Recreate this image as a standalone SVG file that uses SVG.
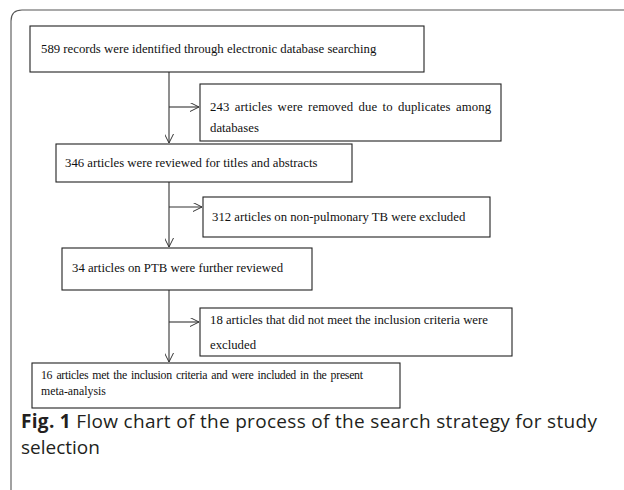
<svg xmlns="http://www.w3.org/2000/svg" width="624" height="490" viewBox="0 0 624 490">
<defs>
<style>
.box{fill:#fff;stroke:#222;stroke-width:1.1}
.t{font-family:"Liberation Serif","Times New Roman",serif;font-size:12.75px;fill:#111}
.s{font-size:11.8px}
.cap{font-family:"Open Sans","Noto Sans",sans-serif;font-size:19px;fill:#231f20}
.ln{stroke:#333;stroke-width:1.1;fill:none}
</style>
<marker id="ah" viewBox="0 0 10 10" refX="10" refY="5" markerWidth="10" markerHeight="9" markerUnits="userSpaceOnUse" orient="auto">
<path d="M0,0 L10,5 L0,10" fill="none" stroke="#333" stroke-width="1.1"/>
</marker>
</defs>
<rect width="624" height="490" fill="#fff"/>
<path d="M11,490 V21 Q11,10 22,10 H624" fill="none" stroke="#555" stroke-width="1.1"/>
<g id="connectors">
<path class="ln" d="M169,72 V143" marker-end="url(#ah)"/>
<path class="ln" d="M169,107 H199" marker-end="url(#ah)"/>
<path class="ln" d="M169,182 V247" marker-end="url(#ah)"/>
<path class="ln" d="M169,207 H202" marker-end="url(#ah)"/>
<path class="ln" d="M169,290 V362" marker-end="url(#ah)"/>
<path class="ln" d="M169,322 H199" marker-end="url(#ah)"/>
</g>
<g id="n1">
<rect class="box" x="30" y="26" width="394" height="46"/>
<text class="t" x="41" y="53">589 records were identified through electronic database searching</text>
</g>
<g id="n2">
<rect class="box" x="200" y="84" width="301" height="57"/>
<text class="t" x="210" y="111" word-spacing="2" textLength="281" lengthAdjust="spacing">243 articles were removed due to duplicates among</text>
<text class="t" x="210" y="132">databases</text>
</g>
<g id="n3">
<rect class="box" x="56" y="144" width="296" height="38"/>
<text class="t" x="65" y="167">346 articles were reviewed for titles and abstracts</text>
</g>
<g id="n4">
<rect class="box" x="203" y="197" width="287" height="40"/>
<text class="t" x="212" y="221">312 articles on non-pulmonary TB were excluded</text>
</g>
<g id="n5">
<rect class="box" x="62" y="248" width="250" height="42"/>
<text class="t" x="72" y="272">34 articles on PTB were further reviewed</text>
</g>
<g id="n6">
<rect class="box" x="200" y="308" width="312" height="48"/>
<text class="t" x="210" y="324">18 articles that did not meet the inclusion criteria were</text>
<text class="t" x="210" y="349">excluded</text>
</g>
<g id="n7">
<rect class="box" x="32" y="363" width="368" height="45"/>
<text class="t s" x="41" y="379" word-spacing="1.5" textLength="322" lengthAdjust="spacing">16 articles met the inclusion criteria and were included in the present</text>
<text class="t s" x="41" y="395">meta-analysis</text>
</g>
<g id="caption">
<text class="cap" x="21" y="428" textLength="576" lengthAdjust="spacing"><tspan font-weight="bold">Fig. 1</tspan>  Flow chart of the process of the search strategy for study</text>
<text class="cap" x="21" y="454">selection</text>
</g>
</svg>
